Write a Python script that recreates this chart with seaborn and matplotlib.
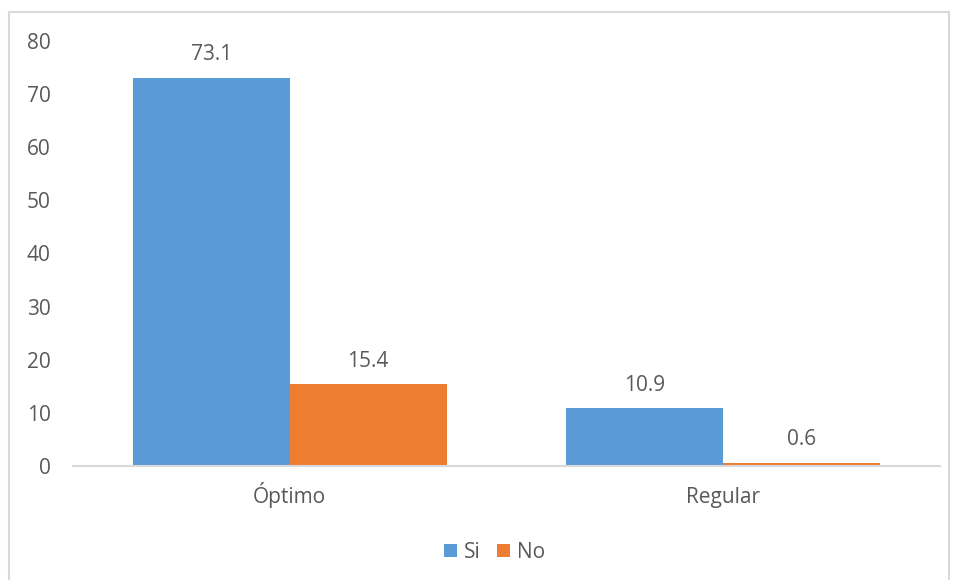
import matplotlib
matplotlib.use("Agg")
import matplotlib.pyplot as plt
from matplotlib.patches import Rectangle, Patch
import seaborn as sns
import pandas as pd

categories = ["Óptimo", "Regular"]
series_names = ["Si", "No"]
si_values = [73.1, 10.9]
no_values = [15.4, 0.6]
y_ticks = [0, 10, 20, 30, 40, 50, 60, 70, 80]

colors = {"Si": "#5B9BD5", "No": "#ED7D31"}
text_color = "#595959"
line_color = "#D9D9D9"
fs = 15

sns.set_style("white")
plt.rcParams["font.family"] = ["Open Sans", "DejaVu Sans"]

df = pd.DataFrame({
    "categoria": categories * 2,
    "serie": [series_names[0]] * len(categories) + [series_names[1]] * len(categories),
    "valor": si_values + no_values,
})

fig = plt.figure(figsize=(9.57, 5.8), dpi=100)
ax = fig.add_axes([0.0763, 0.1966, 0.9059, 0.7327])

sns.barplot(data=df, x="categoria", y="valor", hue="serie", order=categories,
            hue_order=series_names, palette=colors, width=0.724,
            saturation=1, errorbar=None, ax=ax, legend=False, linewidth=0)

for container in ax.containers:
    ax.bar_label(container, fmt="%.1f", padding=9, fontsize=fs, color=text_color)

ax.set_xlim(-0.5, 1.5)
ax.set_ylim(0, 80)
ax.set_yticks(y_ticks)
ax.set_xlabel("")
ax.set_ylabel("")
ax.tick_params(axis="both", length=0, labelsize=fs, colors=text_color)
ax.tick_params(axis="y", pad=16)
ax.tick_params(axis="x", pad=27)
for lbl in ax.get_xticklabels():
    lbl.set_verticalalignment("baseline")
for side in ["top", "right", "left"]:
    ax.spines[side].set_visible(False)
ax.spines["bottom"].set_color(line_color)
ax.spines["bottom"].set_linewidth(1.5)

handles = [Patch(facecolor=colors[s], edgecolor="none") for s in series_names]
fig.legend(handles, series_names, loc="center", bbox_to_anchor=(0.517, 0.048),
           ncol=2, frameon=False, fontsize=fs, labelcolor=text_color,
           handlelength=0.6, handleheight=0.6, handletextpad=0.35,
           columnspacing=0.8)

# chart area frame
fig.patches.append(Rectangle((9 / 957, -0.01), 940 / 957, 1 - 12 / 580 + 0.01,
                             transform=fig.transFigure, fill=False,
                             edgecolor=line_color, linewidth=1.5))

fig.savefig("out.png", dpi=100)
